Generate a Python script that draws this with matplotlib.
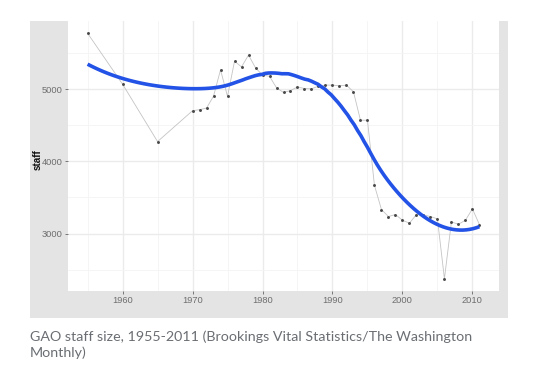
import numpy as np
import matplotlib
matplotlib.use("Agg")
import matplotlib.pyplot as plt
from matplotlib.patches import Rectangle

# ---- data ----
years = [1955, 1960, 1965, 1970, 1971, 1972, 1973, 1974, 1975, 1976, 1977, 1978,
         1979, 1980, 1981, 1982, 1983, 1984, 1985, 1986, 1987, 1988, 1989, 1990,
         1991, 1992, 1993, 1994, 1995, 1996, 1997, 1998, 1999, 2000, 2001, 2002,
         2003, 2004, 2005, 2006, 2007, 2008, 2009, 2010, 2011]
staff = [5774, 5069, 4274, 4702, 4716, 4738, 4903, 5268, 4900, 5387, 5308, 5472,
         5296, 5194, 5178, 5020, 4954, 4981, 5030, 5009, 5005, 5042, 5056, 5056,
         5046, 5056, 4963, 4570, 4570, 3667, 3333, 3236, 3264, 3185, 3144, 3264,
         3259, 3236, 3204, 2375, 3162, 3129, 3185, 3343, 3125]
x_ticks = [1960, 1970, 1980, 1990, 2000, 2010]
y_ticks = [3000, 4000, 5000]
caption_lines = ["GAO staff size, 1955-2011 (Brookings Vital Statistics/The Washington",
                 "Monthly)"]
y_label = "staff"


def loess(x, y, xs, span=0.75):
    x = np.asarray(x, float)
    y = np.asarray(y, float)
    n = len(x)
    q = int(np.floor(span * n))
    out = []
    for x0 in xs:
        d = np.abs(x - x0)
        h = np.sort(d)[q - 1] * 1.0
        u = np.clip(d / h, 0, 1)
        w = (1 - u ** 3) ** 3
        X = np.vstack([np.ones(n), x - x0, (x - x0) ** 2]).T
        Wm = np.diag(w)
        beta = np.linalg.lstsq(X.T @ Wm @ X, X.T @ Wm @ y, rcond=None)[0]
        out.append(beta[0])
    return np.array(out)


W, H = 543, 371
fig = plt.figure(figsize=(W / 100, H / 100), dpi=100)
fig.patch.set_facecolor("white")

# gray plot background
fig.patches.append(Rectangle((30 / W, 1 - 318 / H), 478 / W, 297 / H,
                             transform=fig.transFigure, facecolor="#e4e4e4",
                             edgecolor="none", zorder=-5))

ax = fig.add_axes([68 / W, 1 - 291 / H, (499 - 68) / W, 270 / H])
ax.set_zorder(2)
ax.set_facecolor("white")
for s in ax.spines.values():
    s.set_visible(False)

xr = max(years) - min(years)
ax.set_xlim(min(years) - 0.05 * xr, max(years) + 0.05 * xr)
yr = max(staff) - min(staff)
ax.set_ylim(min(staff) - 0.05 * yr, max(staff) + 0.05 * yr)

ax.set_xticks(x_ticks)
ax.set_yticks(y_ticks)
ax.set_xticks([1955, 1965, 1975, 1985, 1995, 2005], minor=True)
ax.set_yticks([2500, 3500, 4500, 5500], minor=True)
ax.grid(which="major", color="#ebebeb", linewidth=1.0)
ax.grid(which="minor", color="#f4f4f4", linewidth=0.6)
ax.set_axisbelow(True)
ax.tick_params(which="major", length=2.5, width=0.6, color="#666666",
               labelsize=6.7, labelcolor="#6e6e6e", pad=1.2)
ax.tick_params(which="minor", length=0)
for lab in ax.get_xticklabels() + ax.get_yticklabels():
    lab.set_family("Liberation Sans")

ax.plot(years, staff, color="#c4c4c4", linewidth=0.6, zorder=2)
ax.scatter(years, staff, s=4.5, color="#484848", zorder=3, linewidths=0)

xs = np.linspace(min(years), max(years), 120)
ax.plot(xs, loess(years, staff, xs), color="#2352e6", linewidth=2.6,
        zorder=4, solid_capstyle="butt")

fig.text(38 / W, 1 - 160 / H, y_label, rotation=90, ha="center", va="center",
         fontsize=7.2, fontweight="bold", family="Liberation Sans", color="#111111",
         zorder=3)

for i, line in enumerate(caption_lines):
    fig.text(30 / W, 1 - (341 + 16 * i) / H, line, ha="left", va="baseline",
             fontsize=10.3, family="Lato", color="#6a6e73")

fig.savefig("out.png", dpi=100, facecolor="white")
